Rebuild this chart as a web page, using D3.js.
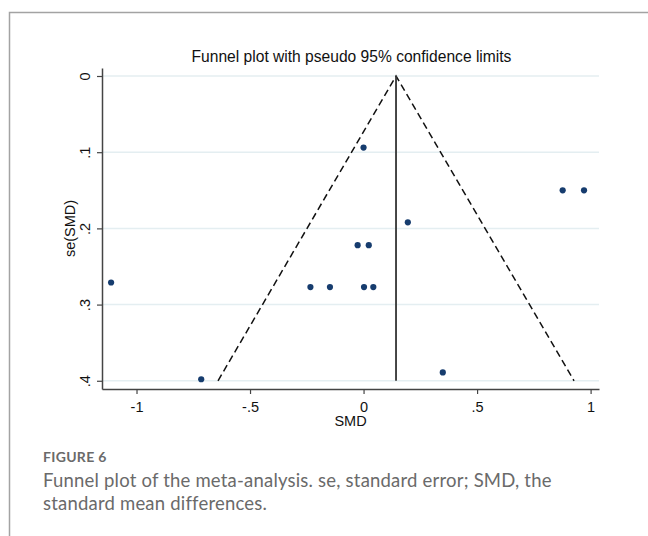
<!DOCTYPE html>
<html><head><meta charset="utf-8">
<script src="https://cdn.jsdelivr.net/npm/d3@7"></script>
<style>
html,body{margin:0;padding:0;background:#fff;}
svg{display:block;}
</style></head>
<body>
<script>
// ---- data ----
const smd = [0.000, 0.195, -0.026, 0.023, -0.234, -0.148, 0.002, 0.043, 0.877, 0.971, -1.112, -0.715, 0.349];
const seSmd = [0.094, 0.192, 0.222, 0.222, 0.277, 0.277, 0.277, 0.277, 0.150, 0.150, 0.271, 0.398, 0.389];
const pooled = 0.143;
const xTicks = [-1, -0.5, 0, 0.5, 1];
const xTickLabels = ["-1", "-.5", "0", ".5", "1"];
const yTicks = [0, 0.1, 0.2, 0.3, 0.4];
const yTickLabels = ["0", ".1", ".2", ".3", ".4"];
const seMax = 0.4;
const title = "Funnel plot with pseudo 95% confidence limits";
const xTitle = "SMD";
const yTitle = "se(SMD)";
const figLabel = "FIGURE 6";
const captionLines = ["Funnel plot of the meta-analysis. se, standard error; SMD, the", "standard mean differences."];

const W = 648, H = 536;
const svg = d3.select("body").append("svg").attr("width", W).attr("height", H);

// frame
svg.append("path").attr("d", `M9.5,${H} V12.5 H${W}`).attr("fill","none").attr("stroke","#a3a3a3").attr("stroke-width",1.5);

const x = d3.scaleLinear().domain([-1.152, 1.037]).range([102, 599]);
const y = d3.scaleLinear().domain([-0.0105, 0.4108]).range([68, 389]);
const font = "'Liberation Sans', Arial, sans-serif";

// grid
svg.append("g").selectAll("line").data(yTicks).join("line")
  .attr("x1", x.range()[0]).attr("x2", x.range()[1])
  .attr("y1", d => y(d)).attr("y2", d => y(d))
  .attr("stroke", "#e4eef1").attr("stroke-width", 1.5);

// funnel
const z = 1.96;
const funnel = [[pooled - z*seMax, seMax], [pooled, 0], [pooled + z*seMax, seMax]];
svg.append("path")
  .attr("d", d3.line().x(d => x(d[0])).y(d => y(d[1]))(funnel))
  .attr("fill","none").attr("stroke","#111").attr("stroke-width",1.5)
  .attr("stroke-dasharray","7,4");
svg.append("line")
  .attr("x1", x(pooled)).attr("x2", x(pooled)).attr("y1", y(0)).attr("y2", y(seMax))
  .attr("stroke","#333").attr("stroke-width",1.8);

// points
svg.append("g").selectAll("circle").data(smd).join("circle")
  .attr("cx", d => x(d)).attr("cy", (d,i) => y(seSmd[i])).attr("r", 3.1)
  .attr("fill", "#163c6e");

// axes
const xAxis = d3.axisBottom(x).tickValues(xTicks).tickFormat((d,i) => xTickLabels[i]).tickSize(5).tickSizeOuter(0);
const gx = svg.append("g").attr("transform", "translate(0,389)").call(xAxis);
gx.select(".domain").attr("stroke","#444").attr("stroke-width",1.5);
gx.selectAll(".tick line").attr("stroke","#444").attr("stroke-width",1.2);
gx.selectAll(".tick text").attr("font-family", font).attr("font-size", 14.5).attr("fill","#111").attr("dy", null).attr("y", 22.5);

const yAxis = d3.axisLeft(y).tickValues(yTicks).tickFormat((d,i) => yTickLabels[i]).tickSize(5).tickSizeOuter(0);
const gy = svg.append("g").attr("transform", "translate(102,0)").call(yAxis);
gy.select(".domain").attr("stroke","#444").attr("stroke-width",1.5);
gy.selectAll(".tick line").attr("stroke","#444").attr("stroke-width",1.2);
gy.selectAll(".tick text").attr("font-family", font).attr("font-size", 14.5).attr("fill","#111")
  .attr("x", null).attr("dy", null).attr("text-anchor","middle")
  .attr("transform", "translate(-12,0) rotate(-90)");

// titles
svg.append("text").attr("x", (x.range()[0]+x.range()[1])/2 + 1).attr("y", 61.5)
  .attr("text-anchor","middle").attr("font-family", font).attr("font-size", 15.6).attr("fill","#111").text(title);
svg.append("text").attr("x", (x.range()[0]+x.range()[1])/2).attr("y", 426)
  .attr("text-anchor","middle").attr("font-family", font).attr("font-size", 14.5).attr("fill","#111").text(xTitle);
svg.append("text").attr("transform", `translate(75,${(y.range()[0]+y.range()[1])/2}) rotate(-90)`)
  .attr("text-anchor","middle").attr("font-family", font).attr("font-size", 14.5).attr("fill","#111").text(yTitle);

// caption
const capFont = "Lato, 'Open Sans', sans-serif";
svg.append("text").attr("x", 43).attr("y", 462).attr("font-family", capFont).attr("font-size", 14)
  .attr("font-weight", 700).attr("fill", "#6a6a6a").attr("letter-spacing", 0.3).text(figLabel);
svg.append("g").selectAll("text").data(captionLines).join("text")
  .attr("x", 43).attr("y", (d,i) => 486.5 + i*23.5)
  .attr("font-family", capFont).attr("font-size", 18.5).attr("letter-spacing", 0.2).attr("fill", "#6a6a6a").text(d => d);
</script>
</body></html>
